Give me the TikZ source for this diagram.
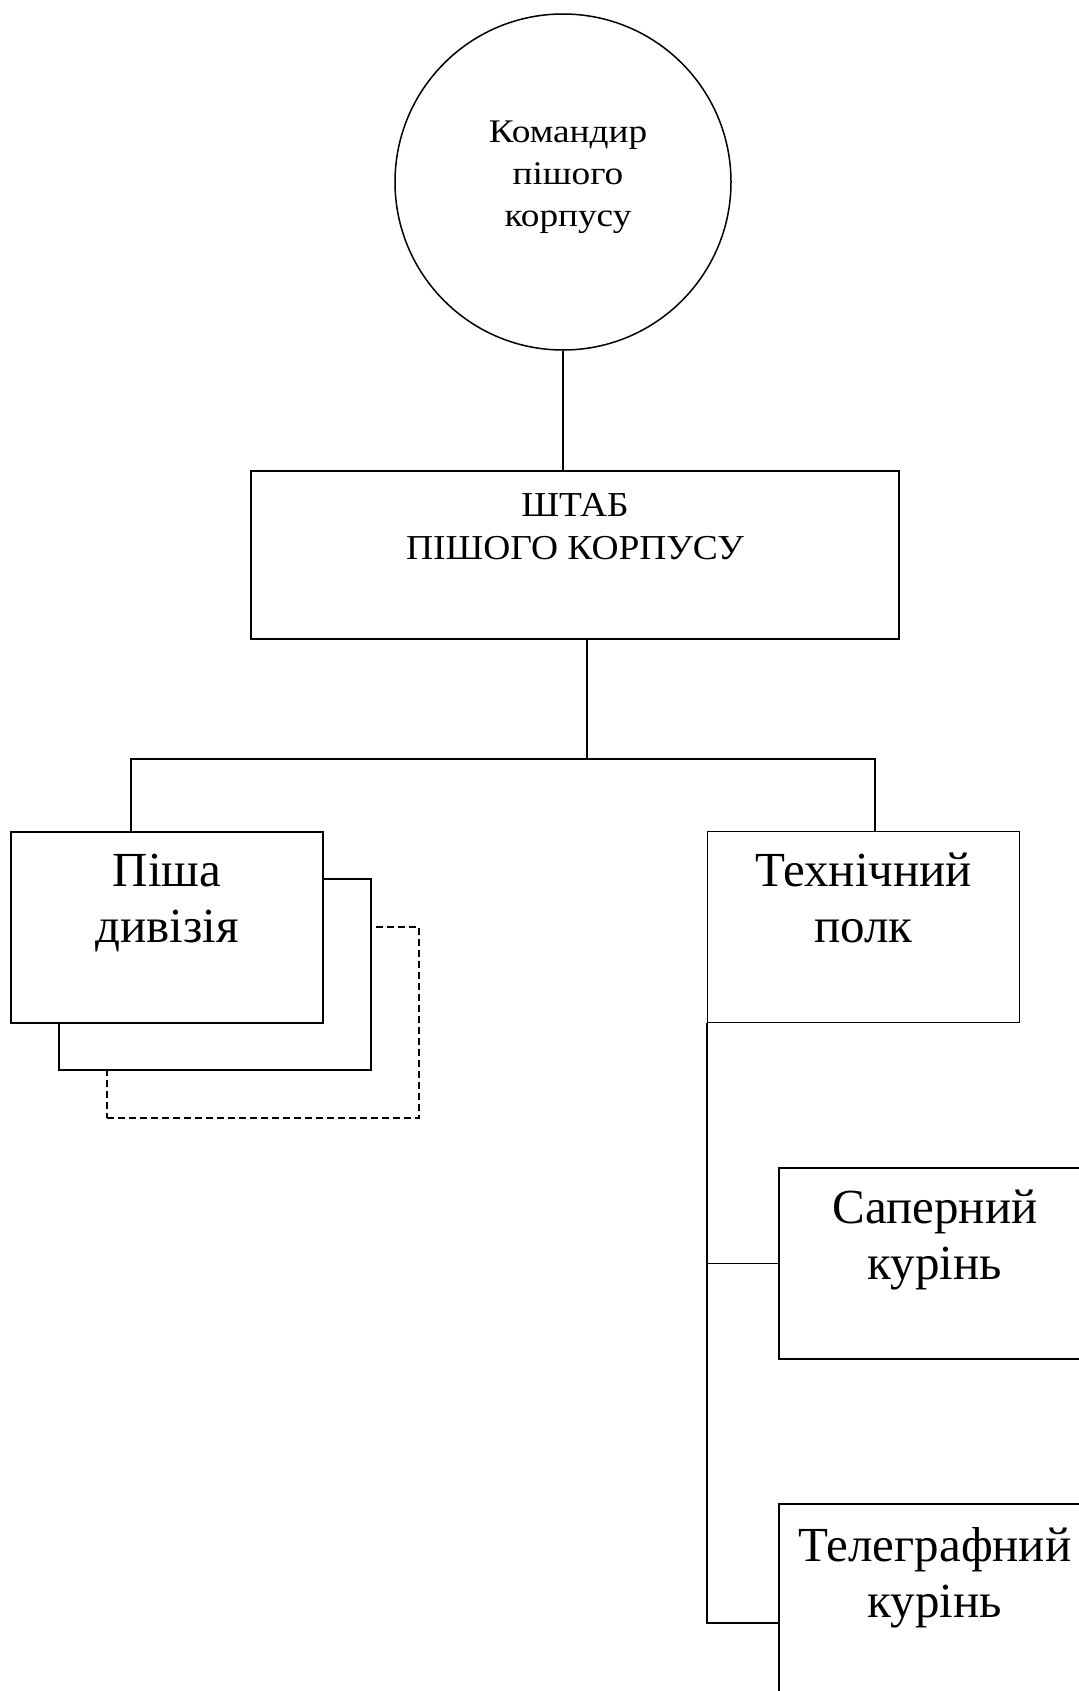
\documentclass[tikz,border=0pt]{standalone}
\usepackage{fontspec}
\setmainfont{Liberation Serif}
\newfontfamily\cmdfont{Liberation Serif}[FakeStretch=1.13]
\newfontfamily\hqfont{Liberation Serif}[FakeStretch=1.07]
\usetikzlibrary{positioning,backgrounds}

\begin{document}
\begin{tikzpicture}[
  x=0.5pt, y=-0.5pt,
  unit/.style={rectangle, draw, fill=white, line width=0.75pt, minimum width=156pt, minimum height=95.5pt, inner sep=0pt},
  lbl/.style={align=center, inner sep=0pt, font=\fontsize{24.5pt}{28pt}\selectfont},
  link/.style={line width=0.75pt},
]

\clip (0,0) rectangle (1079,1691);

\node[circle, draw, line width=0.75pt, minimum size=168pt] (cmd) at (563,182) {};
\node[lbl, font=\cmdfont\fontsize{16.5pt}{21pt}\selectfont] (cmdtext) at ([shift={(5,-5)}]cmd.center) {Командир\\пішого\\корпусу};
\node[unit, minimum width=324pt, minimum height=84pt] (hq) at (575,555) {};
\node[lbl, font=\hqfont\fontsize{17.5pt}{21.5pt}\selectfont, below=11.5pt of hq.north] (hqtext) {ШТАБ\\ПІШОГО КОРПУСУ};

\node[unit] (div) at (167,927.5) {};
\node[lbl, below=11pt of div.north] (divtext) {Піша\\дивізія};
\begin{scope}[on background layer]
  \node[unit, dash pattern=on 3.5pt off 2pt] (div3) at ([shift={(96,95)}]div.center) {};
  \node[unit] (div2) at ([shift={(48,47)}]div.center) {};
\end{scope}

\node[unit] (tech) at (863.5,927) {};
\node[lbl, below=11pt of tech.north] (techtext) {Технічний\\полк};
\node[unit] (sap) at (935,1263.5) {};
\node[lbl, below=11pt of sap.north] (saptext) {Саперний\\курінь};
\node[unit, minimum height=119pt] (tel) at (935,1623) {};
\node[lbl, below=12pt of tel.north] (teltext) {Телеграфний\\курінь};

\coordinate (busL) at (131,759);
\coordinate (busM) at (587,759);
\coordinate (busR) at (875,759);

\draw[link] (cmd.south) -- (cmd.south |- hq.north);
\draw[link] (busM |- hq.south) -- (busM);
\draw[link] (busL |- div.north) -- (busL) -- (busR) -- (busR |- tech.north);
\draw[link] (tech.south west) -- (tech.south west |- tel.west) -- (tel.west);
\draw[link] (tech.south west |- sap.west) -- (sap.west);

\end{tikzpicture}
\end{document}
